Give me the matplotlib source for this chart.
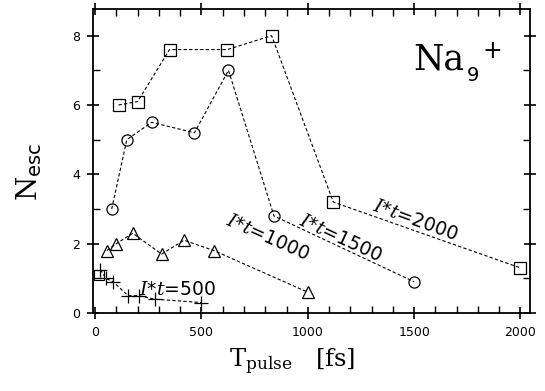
import matplotlib.pyplot as plt
from matplotlib.ticker import MultipleLocator

plt.rcParams['mathtext.fontset'] = 'custom'
plt.rcParams['mathtext.rm'] = 'DejaVu Serif'
plt.rcParams['mathtext.sf'] = 'DejaVu Sans'
plt.rcParams['mathtext.it'] = 'DejaVu Serif:italic'

# I*t = 2000 (squares)
t2000 = [110, 200, 350, 622, 830, 1120, 2000]
n2000 = [6.0, 6.1, 7.6, 7.6, 8.0, 3.2, 1.3]
# I*t = 1500 (circles)
t1500 = [78, 149, 266, 467, 627, 841, 1500]
n1500 = [3.0, 5.0, 5.5, 5.2, 7.0, 2.8, 0.9]
# I*t = 1000 (triangles)
t1000 = [55, 100, 177, 313, 418, 559, 1000]
n1000 = [1.8, 2.0, 2.3, 1.7, 2.1, 1.8, 0.6]
# I*t = 500 (crosses)
t500 = [25, 50, 85, 155, 205, 280, 500]
n500 = [1.25, 1.0, 0.9, 0.5, 0.5, 0.4, 0.3]
t500_sq, n500_sq = [20], [1.1]

W, H = 545, 391
fig = plt.figure(figsize=(W / 100, H / 100), dpi=100)
ax = fig.add_axes([0.1706, 0.1995, 0.802, 0.7775])

line_kw = dict(color='black', lw=0.8, linestyle=(0, (3, 2)), fillstyle='none',
               markeredgewidth=0.9)
ax.plot(t2000, n2000, marker='s', markersize=8, **line_kw)
ax.plot(t1500, n1500, marker='o', markersize=8, **line_kw)
ax.plot(t1000, n1000, marker='^', markersize=9, **line_kw)
ax.plot(t500, n500, marker='+', markersize=10, **line_kw)
ax.plot(t500_sq, n500_sq, marker='s', markersize=7, color='black',
        fillstyle='none', markeredgewidth=0.8, linestyle='none')

lab_kw = dict(fontsize=13.5, ha='center', va='center', family='DejaVu Sans')
ax.text(1504, 2.68, r'$I$*$t$=2000', rotation=-20, **lab_kw)
ax.text(1151, 2.16, r'$I$*$t$=1500', rotation=-25, **lab_kw)
ax.text(813, 2.19, r'$I$*$t$=1000', rotation=-24, **lab_kw)
ax.text(385, 0.69, r'$I$*$t$=500', rotation=0, **lab_kw)

# Na9+ cluster label (pixel positions from top-left)
fig.text(413 / W, 1 - 70 / H, 'Na', family='DejaVu Serif', fontsize=25,
         ha='left', va='baseline')
fig.text(467 / W, 1 - 81 / H, '9', family='DejaVu Sans', fontsize=14,
         ha='left', va='baseline')
fig.text(492 / W, 1 - 51 / H, '+', family='DejaVu Sans', fontsize=17,
         ha='center', va='center')

ax.set_xlim(-10, 2045)
ax.set_ylim(0, 8.77)
ax.xaxis.set_major_locator(MultipleLocator(500))
ax.xaxis.set_minor_locator(MultipleLocator(100))
ax.yaxis.set_major_locator(MultipleLocator(2))
ax.yaxis.set_minor_locator(MultipleLocator(1))
ax.tick_params(which='major', direction='inout', length=9, width=1.2,
               top=True, right=True, labelsize=9, pad=5)
ax.tick_params(which='minor', direction='in', length=5, width=1.0,
               top=True, right=True)
for s in ax.spines.values():
    s.set_linewidth(1.3)

fig.text(292 / W, 1 - 362 / H, r'$\mathrm{T}_{\mathrm{pulse}}\ \ \ \mathrm{[fs]}$',
         fontsize=17.5, ha='center', va='center')
fig.text(29 / W, 1 - 172 / H, r'$\mathrm{N}_{\mathsf{esc}}$', fontsize=20,
         rotation=90, ha='center', va='center')

plt.savefig('out.png', dpi=100)
